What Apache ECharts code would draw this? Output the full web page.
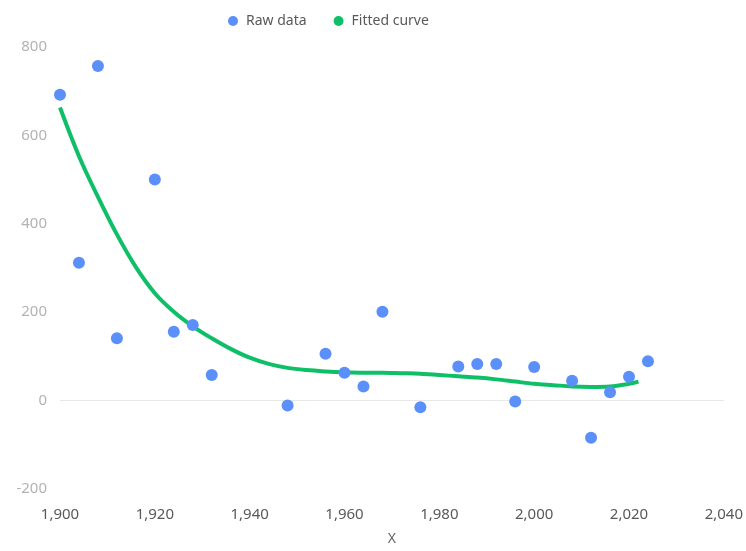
<!DOCTYPE html>
<html>
<head>
<meta charset="utf-8">
<script src="https://cdn.jsdelivr.net/npm/echarts@6/dist/echarts.min.js"></script>
<style>
  html, body { margin: 0; padding: 0; background: #fff; }
  #chart { width: 746px; height: 551px; }
</style>
</head>
<body>
<div id="chart"></div>
<script>
// Observed samples (year, value)
const rawYears = [1900, 1904, 1908, 1912, 1920, 1924, 1928, 1932, 1948, 1956, 1960, 1964,
                  1968, 1976, 1984, 1988, 1992, 1996, 2000, 2008, 2012, 2016, 2020, 2024];
const rawValues = [692, 312, 757, 141, 500, 156, 171, 58, -11, 106, 63, 32,
                   201, -15, 77, 83, 83, -2, 76, 45, -84, 19, 54, 89];

// Fitted trend curve
const fitYears = [1900, 1904, 1908, 1912, 1916, 1920, 1924, 1928, 1932, 1936, 1940, 1944,
                  1948, 1952, 1956, 1960, 1964, 1968, 1972, 1976, 1980, 1984, 1988, 1992,
                  1996, 2000, 2004, 2008, 2012, 2016, 2020, 2022];
const fitValues = [663, 553, 461, 376, 302, 243, 201, 168, 141, 117, 97, 83,
                   74, 69, 66, 64, 63, 63, 62, 61, 58, 55, 52, 48,
                   43, 38, 35, 32, 31, 32, 38, 43];

// Axis settings
const xTicks = { min: 1900, max: 2040, interval: 20 };
const yTicks = { min: -200, max: 800, interval: 200 };

const rawPoints = rawYears.map((y, i) => [y, rawValues[i]]);
const fitPoints = fitYears.map((y, i) => [y, fitValues[i]]);

const font = 'Noto Sans, sans-serif';
const chart = echarts.init(document.getElementById('chart'), null, { renderer: 'canvas' });

chart.setOption({
  animation: false,
  textStyle: { fontFamily: font },
  legend: {
    top: 9,
    left: 223,
    itemWidth: 10,
    itemHeight: 10,
    itemGap: 27,
    icon: 'circle',
    textStyle: { fontFamily: font, fontSize: 14, color: '#595959', padding: [0, 0, 0, 3] },
    data: ['Raw data', 'Fitted curve']
  },
  grid: { left: 60, right: 19, top: 47, bottom: 58, containLabel: false },
  xAxis: {
    type: 'value',
    min: xTicks.min,
    max: xTicks.max,
    interval: xTicks.interval,
    name: 'X',
    nameLocation: 'middle',
    nameGap: 43,
    nameTextStyle: { fontFamily: font, fontSize: 14, color: '#666' },
    axisLine: { show: false, onZero: false },
    axisTick: { show: false },
    splitLine: { show: false },
    axisLabel: { fontFamily: font, fontSize: 15, color: '#595959', margin: 18 }
  },
  yAxis: {
    type: 'value',
    min: yTicks.min,
    max: yTicks.max,
    interval: yTicks.interval,
    axisLine: { show: false },
    axisTick: { show: false },
    splitLine: { show: false },
    axisLabel: { fontFamily: font, fontSize: 15, color: '#b3b3b3', margin: 13 }
  },
  series: [
    {
      name: 'Raw data',
      type: 'scatter',
      data: rawPoints,
      symbolSize: 12,
      itemStyle: { color: '#5b8ff9', opacity: 1 },
      z: 3,
      markLine: {
        silent: true,
        symbol: 'none',
        label: { show: false },
        lineStyle: { color: '#e8e8e8', width: 1, type: 'solid' },
        data: [{ yAxis: 0 }],
        z: 1
      }
    },
    {
      name: 'Fitted curve',
      type: 'line',
      data: fitPoints,
      smooth: 0.35,
      showSymbol: false,
      symbol: 'circle',
      itemStyle: { color: '#0fbf68' },
      lineStyle: { color: '#0fbf68', width: 4 },
      z: 2
    }
  ]
});
</script>
</body>
</html>
